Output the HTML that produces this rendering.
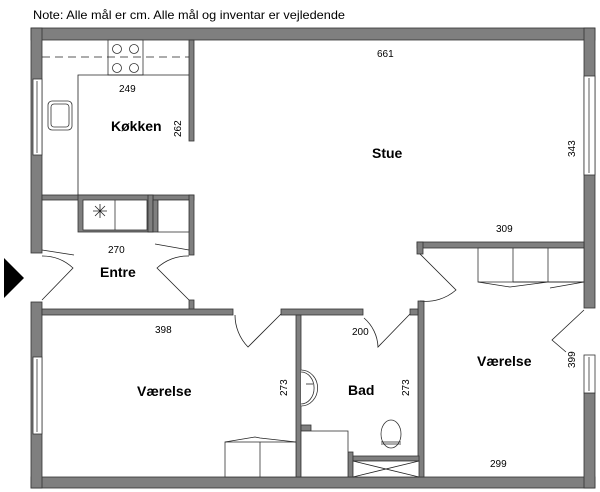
<!DOCTYPE html>
<html><head><style>body{margin:0;background:#fff}svg{display:block}text{font-family:"Liberation Sans",sans-serif}</style></head><body>
<svg width="600" height="492" viewBox="0 0 600 492" xmlns="http://www.w3.org/2000/svg">
<text x="33" y="19" font-size="12" textLength="312" lengthAdjust="spacingAndGlyphs">Note: Alle mål er cm. Alle mål og inventar er vejledende</text>
<g fill="#7f7f7f" stroke="#333" stroke-width="0.8">
<rect x="31" y="28" width="564" height="12"/>
<rect x="31" y="477" width="564" height="11"/>
<rect x="31" y="28" width="11" height="225"/>
<rect x="31" y="302" width="11" height="186"/>
<rect x="584" y="28" width="11" height="280"/>
<rect x="584" y="393" width="11" height="95"/>
<rect x="189" y="40" width="5" height="101"/>
<rect x="42" y="195" width="152" height="5"/>
<rect x="78" y="195" width="75" height="37"/>
<rect x="148" y="195" width="5" height="37"/>
<rect x="153" y="200" width="5" height="32"/>
<rect x="189" y="195" width="5" height="60"/>
<rect x="189" y="300" width="5" height="10"/>
<rect x="42" y="309" width="191" height="6"/>
<rect x="281" y="309" width="82" height="6"/>
<rect x="296" y="315" width="5" height="162"/>
<rect x="417" y="242" width="167" height="6"/>
<rect x="417" y="242" width="6" height="12"/>
<rect x="418" y="301" width="6" height="176"/>
<rect x="410" y="309" width="8" height="6"/>
<rect x="301" y="425" width="10" height="6"/>
<rect x="348" y="452" width="5" height="25"/>
<rect x="353" y="456" width="66" height="5"/>
</g>
<g fill="#fff" stroke="#333" stroke-width="0.8">
<rect x="83" y="200" width="64" height="30"/>
<line x1="115" y1="200" x2="115" y2="230"/>
<rect x="158" y="200" width="31" height="32"/>
<rect x="108" y="40" width="35" height="35"/>
<circle cx="117" cy="49" r="4.5"/><circle cx="134" cy="49" r="4.5"/>
<circle cx="117" cy="68" r="4.5"/><circle cx="134" cy="68" r="4.5"/>
<rect x="48" y="101" width="24" height="29" rx="4"/>
<rect x="51" y="104" width="18" height="23" rx="3"/>
<rect x="33" y="79" width="9" height="76"/><line x1="37" y1="81" x2="37" y2="153"/>
<rect x="33" y="357" width="9" height="77"/><line x1="37" y1="359" x2="37" y2="432"/>
<rect x="584" y="76" width="11" height="99"/><line x1="589" y1="78" x2="589" y2="173"/>
<rect x="584" y="355" width="11" height="38"/><line x1="589" y1="357" x2="589" y2="391"/>
<rect x="225" y="442" width="71" height="35"/><line x1="260" y1="442" x2="260" y2="477"/>
<rect x="301" y="431" width="47" height="46"/>
<rect x="353" y="461" width="66" height="16"/>
<rect x="478" y="248" width="106" height="34"/>
<line x1="513" y1="248" x2="513" y2="282"/><line x1="548" y1="248" x2="548" y2="282"/>
<ellipse cx="391" cy="434" rx="10" ry="14"/>
<path d="M301 370 a12 13 0 1 1 0 36" />
<path d="M301 372 a9 11 0 1 1 0 32"/>
</g>
<g fill="none" stroke="#222" stroke-width="0.8">
<path d="M42 57 H189" stroke-dasharray="8 5"/>
<path d="M78 195 V75 H189"/>
<path d="M93 211 L107 211 M100 204 V218 M95 206 L105 216 M105 206 L95 216"/>
<path d="M42 250 L74 255 M189 250 L155 244"/>
<path d="M42 300 L73 268 A45 45 0 0 0 42 256"/>
<path d="M189 300 L157 268 A45 45 0 0 1 189 256"/>
<path d="M235 315 A46 46 0 0 0 248 347 L281 314"/>
<path d="M410 314 L378 347 A40 40 0 0 0 364 318"/>
<path d="M420 254 L456 290 A46 46 0 0 1 420 301"/>
<path d="M584 310 L552 340 L566 352"/>
<path d="M225 442 L255 437 L260 438 L296 442"/>
<path d="M478 282 L510 287 L548 282 L584 282 M513 282 L548 282 M550 288 L584 282"/>
<path d="M353 461 L419 477 M353 477 L419 461"/>
<path d="M381 442 H401 M381 444 H401"/>
<line x1="306" y1="384" x2="313" y2="384"/>
</g>
<g font-size="10" fill="#000">
<text x="119" y="92">249</text>
<text x="377" y="57">661</text>
<text x="108" y="253">270</text>
<text x="496" y="232">309</text>
<text x="155" y="333">398</text>
<text x="352" y="335">200</text>
<text x="490" y="467">299</text>
<text transform="translate(181,137) rotate(-90)">262</text>
<text transform="translate(575,157) rotate(-90)">343</text>
<text transform="translate(287,396) rotate(-90)">273</text>
<text transform="translate(409,396) rotate(-90)">273</text>
<text transform="translate(575,368) rotate(-90)">399</text>
</g>
<g font-size="14" font-weight="bold" fill="#000">
<text x="111" y="131">Køkken</text>
<text x="372" y="158">Stue</text>
<text x="100" y="277">Entre</text>
<text x="137" y="396">Værelse</text>
<text x="348" y="395">Bad</text>
<text x="477" y="366">Værelse</text>
</g>
<path d="M4 258 L24 278 L4 298 Z" fill="#000"/>
</svg>
</body></html>
